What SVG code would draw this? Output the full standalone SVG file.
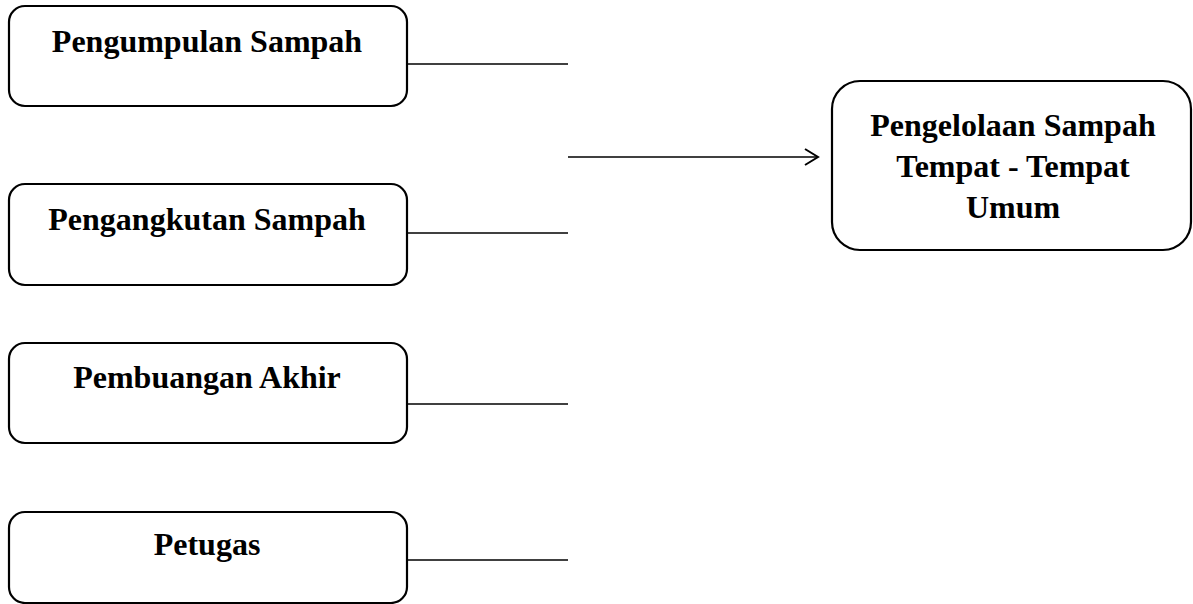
<svg xmlns="http://www.w3.org/2000/svg" width="1193" height="604" viewBox="0 0 1193 604">
<style>
.box{fill:#fff;stroke:#000;stroke-width:2.2}
.t{font-family:"Liberation Serif",serif;font-weight:bold;font-size:32px;fill:#000;text-anchor:middle}
.ln{stroke:#000;stroke-width:1.6;fill:none}
</style>
<defs>
<marker id="arr" markerWidth="20" markerHeight="20" refX="16" refY="10" orient="auto" markerUnits="userSpaceOnUse">
<path d="M3,2 L16,10 L3,18" fill="none" stroke="#000" stroke-width="2"/>
</marker>
</defs>
<rect width="1193" height="604" fill="#fff"/>
<g id="node-pengumpulan">
<rect class="box" x="9" y="6" width="398" height="100" rx="16"/>
<text class="t" x="207" y="52">Pengumpulan Sampah</text>
</g>
<g id="node-pengangkutan">
<rect class="box" x="9" y="184" width="398" height="101" rx="16"/>
<text class="t" x="207" y="230">Pengangkutan Sampah</text>
</g>
<g id="node-pembuangan">
<rect class="box" x="9" y="343" width="398" height="100" rx="16"/>
<text class="t" x="207" y="388">Pembuangan Akhir</text>
</g>
<g id="node-petugas">
<rect class="box" x="9" y="512" width="398" height="91" rx="16"/>
<text class="t" x="207" y="555">Petugas</text>
</g>
<g id="node-pengelolaan">
<rect class="box" x="832" y="81" width="359" height="169" rx="28"/>
<text class="t" x="1013" y="136">Pengelolaan Sampah</text>
<text class="t" x="1013" y="177">Tempat - Tempat</text>
<text class="t" x="1013" y="218">Umum</text>
</g>
<g id="connectors">
<line class="ln" x1="407" y1="64" x2="568" y2="64"/>
<line class="ln" x1="407" y1="233" x2="568" y2="233"/>
<line class="ln" x1="407" y1="404" x2="568" y2="404"/>
<line class="ln" x1="407" y1="560" x2="568" y2="560"/>
<line class="ln" x1="568" y1="157" x2="818" y2="157" marker-end="url(#arr)"/>
</g>
</svg>
